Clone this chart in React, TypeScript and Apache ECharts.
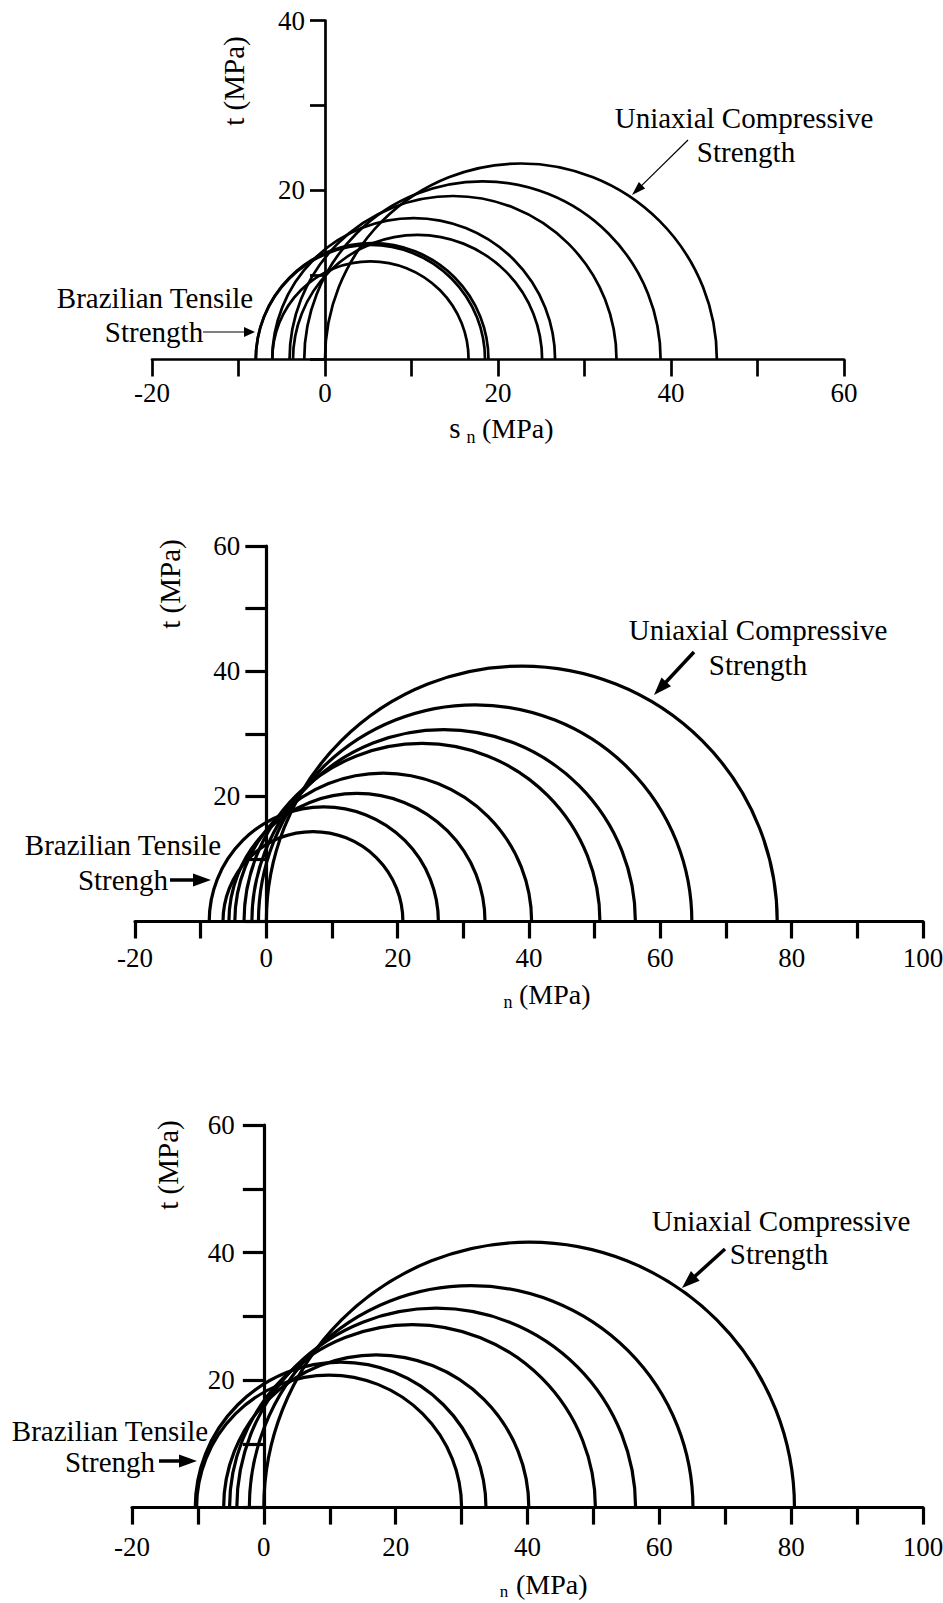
import { useEffect, useRef } from "react";
import * as echarts from "echarts";

// Mohr circles for three test sets: minor (sigma3) and major (sigma1) principal stress, MPa
const sigma3A = [0, -2.4, -4.1, -6.1, -3.7, -8.0, -8.0, -6.1];
const sigma1A = [45.3, 38.8, 33.7, 26.6, 25.1, 18.9, 18.5, 16.6];

const sigma3B = [0, -1.2, -2.2, -3.4, -4.8, -5.7, -8.7, -6.6];
const sigma1B = [77.8, 64.8, 56.2, 50.8, 40.4, 33.3, 26.2, 20.8];

const sigma3C = [0, -2.2, -4.1, -5.2, -6.1, -10.4, -10.2];
const sigma1C = [80.5, 65.1, 56.4, 50.3, 40.2, 33.7, 30.0];

// axis extents (MPa)
const sigmaRangeA = [-20, 60];
const tauRangeA = [0, 40];
const sigmaRangeB = [-20, 100];
const tauRangeB = [0, 60];
const sigmaRangeC = [-20, 100];
const tauRangeC = [0, 60];
const tickStep = 10;
const labelStep = 20;

const FONT = "'Liberation Serif', 'Times New Roman', Times, serif";

type Panel = {
  s3: number[];
  s1: number[];
  xr: number[];
  yr: number[];
  grid: { left: number; top: number; width: number; height: number };
  lw: number;
  axisW: number;
  yTick: number;
  yMargin: number;
  xMargin: number;
};

const panels: Panel[] = [
  { s3: sigma3A, s1: sigma1A, xr: sigmaRangeA, yr: tauRangeA,
    grid: { left: 152, top: 20.5, width: 692, height: 339 },
    lw: 2.7, axisW: 2.7, yTick: 15, yMargin: 20, xMargin: 20 },
  { s3: sigma3B, s1: sigma1B, xr: sigmaRangeB, yr: tauRangeB,
    grid: { left: 135, top: 546, width: 788, height: 375.5 },
    lw: 3.2, axisW: 3.2, yTick: 21, yMargin: 26, xMargin: 23 },
  { s3: sigma3C, s1: sigma1C, xr: sigmaRangeC, yr: tauRangeC,
    grid: { left: 132, top: 1125, width: 791, height: 382.6 },
    lw: 3.2, axisW: 3.2, yTick: 21, yMargin: 29, xMargin: 26 },
];

function text(x: number, y: number, t: string, size = 29, extra: any = {}) {
  return {
    type: "text",
    x,
    y,
    silent: true,
    ...extra,
    style: {
      text: t,
      fontSize: size,
      fontFamily: FONT,
      fill: "#000",
      align: extra.align || "center",
      verticalAlign: "middle",
    },
  };
}

function arrow(x1: number, y1: number, x2: number, y2: number, w: number, hl: number, hw: number) {
  const dx = x2 - x1;
  const dy = y2 - y1;
  const L = Math.hypot(dx, dy);
  const ux = dx / L;
  const uy = dy / L;
  const bx = x2 - ux * hl;
  const by = y2 - uy * hl;
  const px = -uy;
  const py = ux;
  return [
    { type: "line", silent: true, shape: { x1, y1, x2: bx + ux * 2, y2: by + uy * 2 },
      style: { stroke: "#000", lineWidth: w } },
    { type: "polygon", silent: true,
      shape: { points: [[x2, y2], [bx + (px * hw) / 2, by + (py * hw) / 2], [bx - (px * hw) / 2, by - (py * hw) / 2]] },
      style: { fill: "#000" } },
  ];
}

export default function App() {
  const ref = useRef<HTMLDivElement>(null);

  useEffect(() => {
    document.body.style.margin = "0";
    if (!ref.current) return;
    const chart = echarts.init(ref.current, undefined, { renderer: "svg" });

    const grids = panels.map((p) => ({ ...p.grid, containLabel: false, outerBoundsMode: "none" }));

    const xAxes = panels.map((p, i) => ({
      type: "value",
      gridIndex: i,
      min: p.xr[0],
      max: p.xr[1],
      interval: tickStep,
      splitLine: { show: false },
      axisLine: { show: true, onZero: false, lineStyle: { color: "#000", width: p.axisW } },
      axisTick: { show: true, inside: false, length: 17, lineStyle: { color: "#000", width: p.axisW } },
      axisLabel: {
        color: "#000",
        fontFamily: FONT,
        fontSize: 27,
        margin: p.xMargin,
        formatter: (v: number) => (v % labelStep === 0 ? String(v) : ""),
      },
    }));

    // the tau axis stands at sigma = 0: shift it in from the grid's left edge
    const yAxes = panels.map((p, i) => ({
      type: "value",
      gridIndex: i,
      position: "left",
      offset: -((0 - p.xr[0]) / (p.xr[1] - p.xr[0])) * p.grid.width,
      min: p.yr[0],
      max: p.yr[1],
      interval: tickStep,
      splitLine: { show: false },
      axisLine: { show: true, onZero: false, lineStyle: { color: "#000", width: p.axisW } },
      axisTick: { show: true, inside: false, length: p.yTick, lineStyle: { color: "#000", width: p.axisW } },
      axisLabel: {
        color: "#000",
        fontFamily: FONT,
        fontSize: 27,
        margin: p.yMargin,
        formatter: (v: number) => (v > 0 && v % labelStep === 0 ? String(v) : ""),
      },
    }));

    const series = panels.map((p, i) => ({
      type: "custom",
      xAxisIndex: i,
      yAxisIndex: i,
      clip: false,
      silent: true,
      data: p.s3.map((v, k) => [v, p.s1[k]]),
      renderItem: (_params: any, api: any) => {
        const a = api.coord([api.value(0), 0]);
        const b = api.coord([api.value(1), 0]);
        const r = (b[0] - a[0]) / 2;
        return {
          type: "arc",
          shape: { cx: (a[0] + b[0]) / 2, cy: a[1], r, startAngle: Math.PI, endAngle: 2 * Math.PI, clockwise: true },
          style: { fill: "none", stroke: "#000", lineWidth: p.lw },
        };
      },
    }));

    const graphic: any[] = [
      // panel A
      text(744, 118, "Uniaxial Compressive"),
      text(746, 152, "Strength"),
      ...arrow(688, 140, 632, 195, 1.2, 14, 9),
      text(155, 298, "Brazilian Tensile"),
      text(154, 332, "Strength"),
      ...arrow(203, 332, 255, 332, 1.2, 11, 10),
      text(455, 428, "s"),
      text(471, 437, "n", 18),
      text(482, 428, "(MPa)", 28, { align: "left" }),
      text(234, 81, "t (MPa)", 29, { rotation: Math.PI / 2 }),
      // panel B
      text(758, 630, "Uniaxial Compressive"),
      text(758, 665, "Strength"),
      ...arrow(694, 652, 654, 695, 3.5, 18, 13),
      text(123, 845, "Brazilian Tensile"),
      text(123, 880, "Strengh"),
      ...arrow(170, 880, 211, 880, 3.5, 18, 13),
      text(508, 1002, "n", 18),
      text(519, 994, "(MPa)", 28, { align: "left" }),
      text(170, 584, "t (MPa)", 29, { rotation: Math.PI / 2 }),
      // panel C
      text(781, 1221, "Uniaxial Compressive"),
      text(779, 1254, "Strength"),
      ...arrow(725, 1249, 682, 1288, 3.5, 18, 13),
      text(110, 1431, "Brazilian Tensile"),
      text(110, 1462, "Strengh"),
      ...arrow(159, 1461, 197, 1461, 3.5, 18, 13),
      text(504, 1591, "n", 17),
      text(516, 1584, "(MPa)", 28, { align: "left" }),
      text(168, 1165, "t (MPa)", 29, { rotation: Math.PI / 2 }),
    ];

    chart.setOption({
      animation: false,
      backgroundColor: "#fff",
      grid: grids,
      xAxis: xAxes,
      yAxis: yAxes,
      series,
      graphic: { elements: graphic },
    });

    return () => chart.dispose();
  }, []);

  return <div ref={ref} style={{ width: 943, height: 1603 }} />;
}
